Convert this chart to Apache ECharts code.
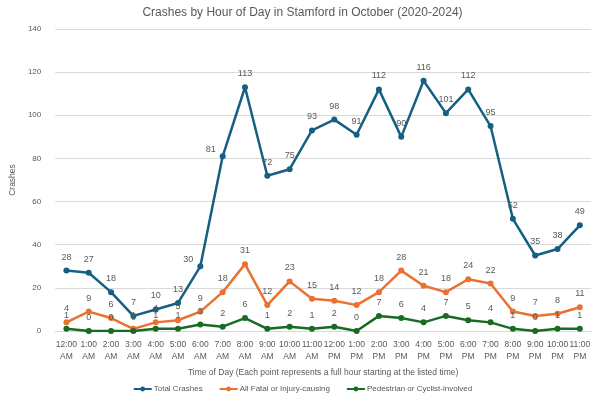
<!DOCTYPE html>
<html><head><meta charset="utf-8">
<script src="https://cdn.jsdelivr.net/npm/echarts@6/dist/echarts.min.js"></script>
<style>html,body{margin:0;padding:0;background:#fff}#c{width:605px;height:402px}</style>
</head><body><div id="c"></div>
<script>
const hours = ['12:00\nAM','1:00\nAM','2:00\nAM','3:00\nAM','4:00\nAM','5:00\nAM','6:00\nAM','7:00\nAM','8:00\nAM','9:00\nAM','10:00\nAM','11:00\nAM','12:00\nPM','1:00\nPM','2:00\nPM','3:00\nPM','4:00\nPM','5:00\nPM','6:00\nPM','7:00\nPM','8:00\nPM','9:00\nPM','10:00\nPM','11:00\nPM'];
const totalCrashes = [28,27,18,7,10,13,30,81,113,72,75,93,98,91,112,90,116,101,112,95,52,35,38,49];
const fatalInjury = [4,9,6,1,4,5,9,18,31,12,23,15,14,12,18,28,21,18,24,22,9,7,8,11];
const pedCyclist = [1,0,0,0,1,1,3,2,6,1,2,1,2,0,7,6,4,7,5,4,1,0,1,1];
const yTicks = {min:0, max:140, interval:20};
// label placement overrides (index -> position) for the total series
const totalLabelLeft = [6, 7];

const font = 'Liberation Sans, Arial, sans-serif';
const gray = '#595959';
function mk(name, data, color, leftIdx){
  return {name, type:'line', symbol:'circle', symbolSize:6,
    data: data.map((v,i)=> (leftIdx||[]).includes(i) ? {value:v, label:{position:'left', distance:4, offset:[0,-7]}} : v),
    lineStyle:{color, width:2.5}, itemStyle:{color},
    label:{show:true, position:'top', distance:6, color:gray, fontSize:9, fontFamily:font}};
}
const chart = echarts.init(document.getElementById('c'));
chart.setOption({
  animation:false,
  title:{text:'Crashes by Hour of Day in Stamford in October (2020-2024)', left:'center', top:2,
    textStyle:{color:gray, fontSize:12, fontWeight:'normal', fontFamily:font}},
  grid:{left:44, right:14, top:29, bottom:71},
  legend:{bottom:4, left:'center', itemWidth:18, itemHeight:6, itemGap:16,
    textStyle:{color:gray, fontSize:8, fontFamily:font, padding:[0,0,0,-3]}},
  xAxis:{type:'category', data:hours, boundaryGap:true,
    axisLine:{lineStyle:{color:'#d9d9d9'}}, axisTick:{show:false},
    axisLabel:{color:gray, fontSize:8.5, fontFamily:font, interval:0, lineHeight:12, margin:8},
    name:'Time of Day (Each point represents a full hour starting at the listed time)',
    nameLocation:'middle', nameGap:32, nameTextStyle:{color:gray, fontSize:8.5, fontFamily:font}},
  yAxis:{type:'value', min:yTicks.min, max:yTicks.max, interval:yTicks.interval,
    axisLine:{show:false}, axisTick:{show:false},
    splitLine:{lineStyle:{color:'#d9d9d9'}},
    axisLabel:{color:gray, fontSize:8, fontFamily:font, margin:14},
    name:'Crashes', nameLocation:'middle', nameGap:27, nameTextStyle:{color:gray, fontSize:8.5, fontFamily:font}},
  series:[
    mk('Total Crashes', totalCrashes, '#156082', totalLabelLeft),
    mk('All Fatal or Injury-causing', fatalInjury, '#E97132'),
    mk('Pedestrian or Cyclist-involved', pedCyclist, '#196B24')
  ]
});
</script></body></html>
